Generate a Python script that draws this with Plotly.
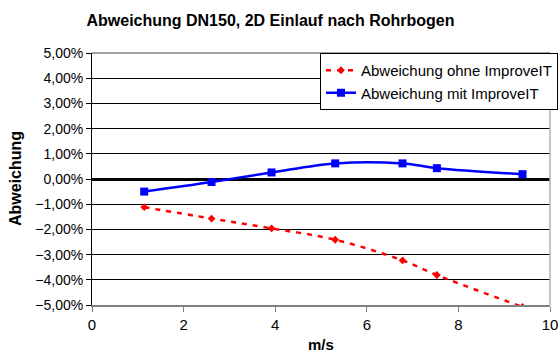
import plotly.graph_objects as go

speed = [1.14, 2.61, 3.92, 5.31, 6.78, 7.53, 9.40]
ohne = [-1.12, -1.57, -1.96, -2.41, -3.23, -3.81, -5.08]
mit = [-0.50, -0.12, 0.26, 0.62, 0.62, 0.43, 0.19]

ohne_f = [v / 100 for v in ohne]
mit_f = [v / 100 for v in mit]

font = "Liberation Sans, Arial, sans-serif"
W, H = 560, 356
L, R, T, B = 92, 10, 53, 51

fig = go.Figure()
fig.add_trace(go.Scatter(
    x=speed, y=ohne_f, name="Abweichung ohne ImproveIT",
    mode="lines+markers", line=dict(color="#ff0000", width=2.5, dash="5px,6px", shape="spline"),
    marker=dict(symbol="diamond", size=6, color="#ff0000"),
))
fig.add_trace(go.Scatter(
    x=speed, y=mit_f, name="Abweichung mit ImproveIT",
    mode="lines+markers", line=dict(color="#0000ff", width=2.5, shape="spline"),
    marker=dict(symbol="square", size=8, color="#0000ff"),
))

fig.update_layout(
    width=W, height=H,
    margin=dict(l=L, r=R, t=T, b=B, autoexpand=False),
    paper_bgcolor="white", plot_bgcolor="white",
    separators=",.",
    font=dict(family=font, size=14, color="black"),
    title=dict(text="<b>Abweichung DN150, 2D Einlauf nach Rohrbogen</b>", x=0.483, xanchor="center",
               y=1 - 20 / H, yanchor="middle", font=dict(size=16)),
    showlegend=True,
    legend=dict(x=(320 - L) / (W - L - R), y=1.0, xanchor="left", yanchor="top", bgcolor="white",
                bordercolor="black", borderwidth=1, font=dict(size=15),
                tracegroupgap=0),
    xaxis=dict(range=[0, 10], tickvals=[0, 2, 4, 6, 8, 10], showgrid=False, automargin=False,
               showline=True, linecolor="#808080", linewidth=2, ticks="outside", ticklen=5,
               tickcolor="#808080", zeroline=False, tickfont=dict(size=15)),
    yaxis=dict(range=[-0.05, 0.05], dtick=0.01, tickformat=".2%", showgrid=True, automargin=False,
               gridcolor="black", gridwidth=1, showline=True, linecolor="black", linewidth=1,
               ticks="outside", ticklen=5, tickcolor="black", zeroline=True, zerolinecolor="black",
               zerolinewidth=3, tickfont=dict(size=14)),
    annotations=[
        dict(text="<b>m/s</b>", xref="paper", yref="paper", x=(321 - L) / (W - L - R),
             y=-(345 - (H - B)) / (H - T - B), xanchor="center", yanchor="middle",
             showarrow=False, font=dict(size=15)),
        dict(text="<b>Abweichung</b>", xref="paper", yref="paper", x=-(L - 15) / (W - L - R),
             y=(H - B - 179) / (H - T - B), xanchor="center", yanchor="middle", textangle=-90,
             showarrow=False, font=dict(size=16)),
    ],
)
fig.add_shape(type="line", xref="paper", yref="paper", x0=0, x1=1, y0=1, y1=1,
              line=dict(color="#808080", width=1.5))
fig.add_shape(type="line", xref="paper", yref="paper", x0=1, x1=1, y0=0, y1=1,
              line=dict(color="#b0b0b0", width=1.5))
fig.write_html("out.html", config={"displayModeBar": False},
               post_script="document.body.style.margin='0';document.body.style.overflow='hidden';")
